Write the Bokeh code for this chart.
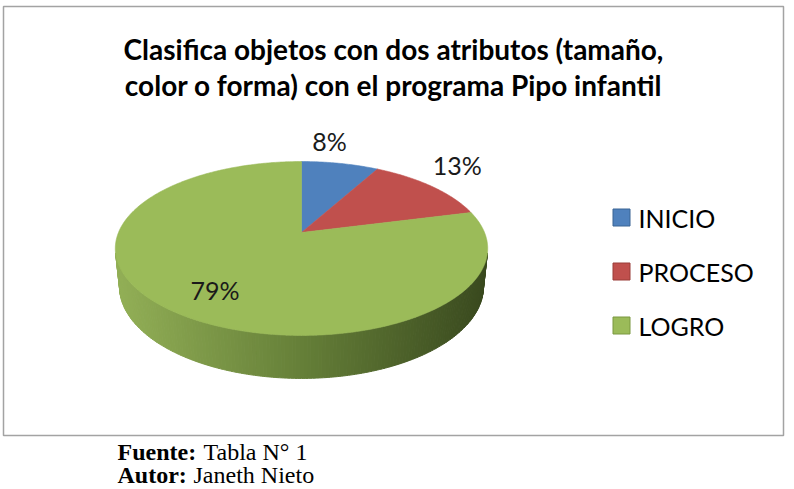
import numpy as np
from bokeh.plotting import figure
from bokeh.models import Range1d
from bokeh.embed import file_html
from bokeh.resources import INLINE
from bokeh.core.properties import value

# ---- data -------------------------------------------------------------
categories = ["INICIO", "PROCESO", "LOGRO"]
percentages = [8, 13, 79]
slice_labels = ["8%", "13%", "79%"]
slice_colors = ["#4F81BD", "#C0504D", "#9BBB59"]
edge_colors = ["#3A6494", "#9A3C39", "#7A9840"]

title_lines = [
    "Clasifica objetos con dos atributos (tamaño,",
    "color o forma) con el programa Pipo infantil",
]
source_key, source_text = "Fuente:", "Tabla N° 1"
author_key, author_text = "Autor:", "Janeth Nieto"

# ---- canvas in pixel units (y grows downward) -------------------------
W, H = 794, 489
p = figure(width=W, height=H, x_range=Range1d(0, W), y_range=Range1d(H, 0),
           output_backend="svg", toolbar_location=None, min_border=0,
           x_axis_location=None, y_axis_location=None)
p.grid.visible = False
p.outline_line_color = None
p.background_fill_color = "white"
p.border_fill_color = "white"

# chart frame
p.quad(left=3, right=783, top=6, bottom=435, fill_color=None,
       line_color="#A3A3A3", line_width=1.5)

# ---- 3-D pie: perspective projection of a tilted disc -----------------
CX, CY = 301.0, 232.0     # screen position of the disc centre
FOCAL = 884.0
DIST = 4.83
SIN_T, COS_T = 0.459, 0.888
THICK = 0.236


def project(theta, r=1.0, level=0.0):
    """theta clockwise from 12 o'clock; level 0 = top face, -THICK = base."""
    X = r * np.sin(theta)
    Z = r * np.cos(theta)
    yv = Z * SIN_T + level * COS_T
    d = DIST + Z * COS_T - level * SIN_T
    return CX + FOCAL * X / d, CY - FOCAL * yv / d


fractions = np.array(percentages, dtype=float) / sum(percentages)
ends = np.cumsum(fractions) * 2 * np.pi
starts = np.concatenate([[0.0], ends[:-1]])

# side wall: only the part facing the viewer is visible
lim = np.arccos(-1.0 / (DIST * COS_T))
side_t = np.linspace(lim, 2 * np.pi - lim, 160)
xs_side, ys_side, side_cols = [], [], []
top_x_all, _ = project(side_t)
xmin, xmax = top_x_all.min(), top_x_all.max()
c_left = np.array([146, 175, 86])
c_mid = np.array([101, 127, 56])
c_right = np.array([57, 73, 30])
for a, b in zip(side_t[:-1], side_t[1:]):
    tt = np.linspace(a, b, 3)
    tx, ty = project(tt)
    bx, by = project(tt[::-1], level=-THICK)
    xs_side.append(list(tx) + list(bx))
    ys_side.append(list(ty) + list(by))
    u = (np.mean(tx) - xmin) / (xmax - xmin)
    if u < 0.5:
        c = c_left + (c_mid - c_left) * (u / 0.5)
    else:
        c = c_mid + (c_right - c_mid) * ((u - 0.5) / 0.5)
    side_cols.append("#%02x%02x%02x" % tuple(int(round(v)) for v in c))
p.patches(xs_side, ys_side, fill_color=side_cols, line_color=side_cols,
          line_width=1.0)

# top face slices
for s, e, col in zip(starts, ends, slice_colors):
    tt = np.linspace(s, e, max(8, int((e - s) * 90)))
    ax, ay = project(tt)
    p.patch([CX] + list(ax), [CY] + list(ay), fill_color=col,
            line_color=col, line_width=0.6)

# slice value labels
label_radius = [1.3, 1.2, 0.73]
label_shift = [(-20, -6), (3, -13), (5, 3)]
mids = (starts + ends) / 2
for m, rr, (dx, dy), txt in zip(mids, label_radius, label_shift, slice_labels):
    lx, ly = project(m, r=rr)
    p.text(x=[lx + dx], y=[ly + dy], text=[txt], text_font=value("Lato"),
           text_font_size="25px", text_color="#1a1a1a",
           text_align="center", text_baseline="middle")

# ---- title --------------------------------------------------------------
for i, line in enumerate(title_lines):
    p.text(x=[393], y=[48 + 36 * i], text=[line], text_font=value("Lato"),
           text_font_style="bold", text_font_size="28px", text_color="#000000",
           text_align="center", text_baseline="middle")

# ---- legend -------------------------------------------------------------
for i, (name, col, ec) in enumerate(zip(categories, slice_colors, edge_colors)):
    yc = 217 + 54 * i
    p.rect(x=[621], y=[yc], width=17, height=17, fill_color=col,
           line_color=ec, line_width=1)
    p.text(x=[638], y=[yc], text=[name], text_font=value("Lato"),
           text_font_size="25px", text_color="#000000",
           text_align="left", text_baseline="middle")

# ---- source / author notes ---------------------------------------------
serif = value("Liberation Serif")
for yy, key, txt, off in [(451, source_key, source_text, 203),
                          (474, author_key, author_text, 193)]:
    p.text(x=[117], y=[yy], text=[key], text_font=serif,
           text_font_style="bold", text_font_size="24px", text_color="#000000",
           text_baseline="middle")
    p.text(x=[off], y=[yy], text=[txt], text_font=serif,
           text_font_size="24px", text_color="#000000", text_baseline="middle")

open("out.html", "w").write(file_html(p, INLINE))
